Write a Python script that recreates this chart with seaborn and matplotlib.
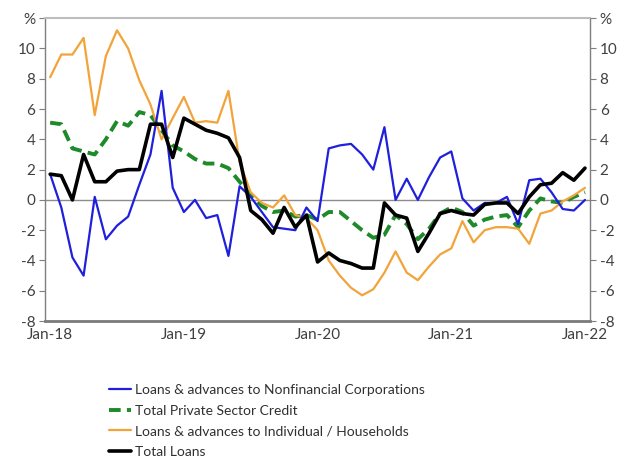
import matplotlib
matplotlib.use("Agg")
import matplotlib.pyplot as plt
import seaborn as sns
import pandas as pd
import numpy as np

# ---- data (monthly, Jan-18 .. Jan-22) ----
tick_labels = ["Jan-18", "Jan-19", "Jan-20", "Jan-21", "Jan-22"]
series_names = [
    "Loans & advances to Nonfinancial Corporations",
    "Total Private Sector Credit",
    "Loans & advances to Individual / Households",
    "Total Loans",
]
nfc = [1.7, -0.5, -3.8, -5.0, 0.2, -2.6, -1.7, -1.1, 1.0, 3.0, 7.2, 0.8, -0.8, 0.0, -1.2, -1.0,
       -3.7, 0.9, 0.2, -0.8, -1.8, -1.9, -2.0, -0.5, -1.4, 3.4, 3.6, 3.7, 3.0, 2.0, 4.8, 0.0,
       1.4, 0.0, 1.5, 2.8, 3.2, 0.1, -0.7, -0.2, -0.2, 0.2, -1.6, 1.3, 1.4, 0.5, -0.6, -0.7, 0.0]
private_credit = [5.1, 5.0, 3.4, 3.2, 3.0, 4.0, 5.2, 4.9, 5.8, 5.6, 4.6, 3.6, 3.2, 2.7, 2.4, 2.4,
                  2.1, 1.2, 0.3, -0.4, -0.8, -0.7, -1.1, -1.0, -1.3, -0.8, -0.8, -1.4, -2.0, -2.5,
                  -2.3, -1.0, -1.6, -2.6, -1.9, -0.9, -0.5, -0.8, -1.7, -1.3, -1.1, -1.0, -1.8,
                  -0.7, 0.1, -0.1, -0.2, 0.2, 0.5]
households = [8.1, 9.6, 9.6, 10.7, 5.6, 9.5, 11.2, 10.0, 7.9, 6.3, 4.0, 5.4, 6.8, 5.1, 5.2, 5.1,
              7.2, 2.5, 0.5, -0.2, -0.5, 0.3, -1.0, -1.2, -2.0, -4.0, -5.0, -5.8, -6.3, -5.9,
              -4.8, -3.4, -4.8, -5.3, -4.4, -3.6, -3.2, -1.4, -2.8, -2.0, -1.8, -1.8, -1.9,
              -2.9, -0.9, -0.7, -0.1, 0.3, 0.8]
total_loans = [1.7, 1.6, 0.0, 3.0, 1.2, 1.2, 1.9, 2.0, 2.0, 5.0, 5.0, 2.8, 5.4, 5.0, 4.6, 4.4,
               4.1, 2.8, -0.7, -1.3, -2.2, -0.5, -1.8, -1.0, -4.1, -3.5, -4.0, -4.2, -4.5, -4.5,
               -0.2, -1.0, -1.2, -3.4, -2.2, -0.9, -0.7, -0.9, -1.0, -0.3, -0.2, -0.2, -0.9,
               0.2, 1.0, 1.1, 1.8, 1.3, 2.1]

months = list(range(len(nfc)))
df = pd.DataFrame({"m": months, "nfc": nfc, "psc": private_credit,
                   "hh": households, "tl": total_loans})

sns.set_theme(style="white")
plt.rcParams["font.family"] = ["Lato", "DejaVu Sans"]

fig = plt.figure(figsize=(6.27, 4.66), dpi=100)
ax = fig.add_axes([0.072, 0.311, 0.869, 0.650])

ax.axhline(0, color="#8c8c8c", lw=1.0, zorder=1)

sns.lineplot(data=df, x="m", y="nfc", ax=ax, color="#1f1fdc", lw=1.6,
             label=series_names[0], zorder=3)
sns.lineplot(data=df, x="m", y="psc", ax=ax, color="#1e8a2a", lw=2.8,
             label=series_names[1], zorder=2)
ax.lines[-1].set_dashes([3.0, 1.6])
sns.lineplot(data=df, x="m", y="hh", ax=ax, color="#f2a33a", lw=1.6,
             label=series_names[2], zorder=2)
sns.lineplot(data=df, x="m", y="tl", ax=ax, color="black", lw=2.6,
             label=series_names[3], zorder=4)

ax.set_xlim(-0.45, 48.45)
ax.set_ylim(-8, 12)
yt = list(range(-8, 13, 2))
ylabels = [str(v) for v in yt[:-1]] + ["%"]
ax.set_yticks(yt)
ax.set_yticklabels(ylabels)
ax.set_xticks([0, 12, 24, 36, 48])
ax.set_xticklabels(tick_labels)
ax.set_xlabel("")
ax.set_ylabel("")

for s in ["left", "right"]:
    ax.spines[s].set_color("#7f7f7f")
    ax.spines[s].set_linewidth(1.0)
ax.spines["top"].set_color("#bdbdbd")
ax.spines["top"].set_linewidth(1.5)
ax.spines["bottom"].set_color("#7a7a7a")
ax.spines["bottom"].set_linewidth(2.0)

ax.tick_params(axis="y", which="both", left=True, length=4, width=0.8,
               color="#7f7f7f", labelsize=11, labelcolor="#404040", pad=3)
ax.tick_params(axis="x", length=0, labelsize=11, labelcolor="#404040", pad=5)

ax2 = ax.twinx()
ax2.set_ylim(ax.get_ylim())
ax2.set_yticks(yt)
ax2.set_yticklabels(ylabels)
ax2.tick_params(axis="y", right=True, length=4, width=0.8, color="#7f7f7f",
                labelsize=11, labelcolor="#404040", pad=3)
for s in ax2.spines.values():
    s.set_visible(False)
ax2.grid(False)
ax.grid(False)

handles, labels = ax.get_legend_handles_labels()
ax.get_legend().remove()
fig.legend(handles, labels, loc="upper left", bbox_to_anchor=(0.165, 0.188),
           frameon=False, fontsize=10, handlelength=1.6, handletextpad=0.3,
           labelspacing=0.62, borderaxespad=0, labelcolor="#303030")

fig.savefig("out.png", dpi=100, facecolor="white")
